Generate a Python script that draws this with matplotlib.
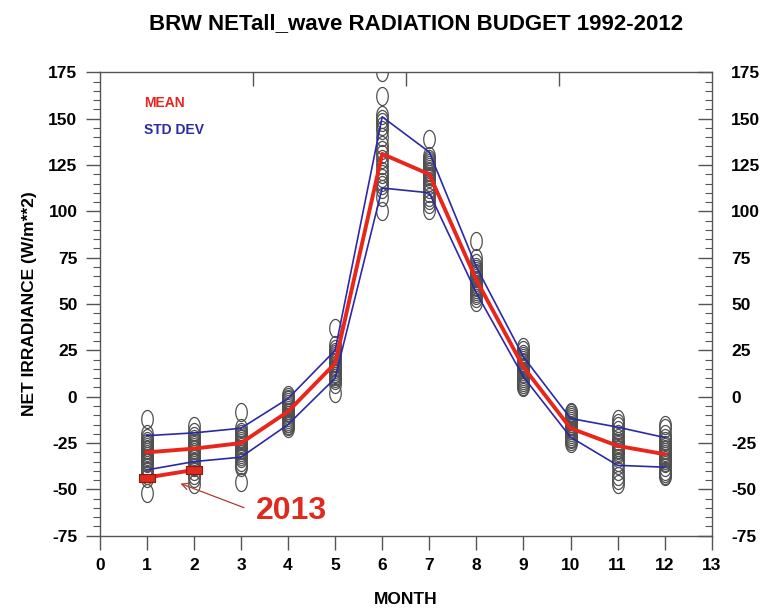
import numpy as np
import matplotlib
matplotlib.use("Agg")
import matplotlib.pyplot as plt
from matplotlib.path import Path
from matplotlib.ticker import MultipleLocator, FixedLocator

plt.rcParams['font.family'] = ['Liberation Sans', 'DejaVu Sans']

months = [1, 2, 3, 4, 5, 6, 7, 8, 9, 10, 11, 12]
mean_vals = [-30, -28, -25, -8, 18, 131, 120, 63, 16, -17, -26.5, -31]
std_upper = [-21, -19.5, -17, -1, 25, 151, 132, 70, 21.5, -11.7, -16.4, -22]
std_lower = [-39.5, -35, -32.6, -15, 10, 112.6, 110, 56, 10.7, -21.8, -37, -38]

yearly = {
    1: [-12, -20, -22, -24, -25, -26, -27, -28, -29, -30, -31, -32, -33, -34, -35, -36, -38, -40, -42, -44, -52],
    2: [-16, -19, -21, -23, -24, -25, -26, -27, -28, -29, -30, -31, -32, -33, -35, -36, -38, -40, -42, -44, -47],
    3: [-8, -17, -19, -20, -21, -22, -23, -24, -25, -26, -27, -28, -29, -30, -31, -32, -33, -35, -37, -38, -46],
    4: [1, 0, -1, -2, -3, -4, -5, -6, -7, -8, -8, -9, -10, -11, -12, -13, -14, -15, -16, -17, -14],
    5: [37, 28, 26, 24, 23, 22, 21, 20, 19, 18, 17, 16, 15, 14, 13, 12, 11, 10, 9, 7, 2],
    6: [175, 162, 152, 150, 148, 146, 144, 140, 136, 133, 131, 128, 125, 122, 120, 118, 116, 114, 112, 108, 100],
    7: [139, 130, 128, 127, 126, 125, 124, 123, 122, 121, 120, 119, 118, 116, 114, 112, 110, 108, 106, 104, 101],
    8: [84, 75, 72, 70, 69, 68, 67, 66, 65, 64, 63, 62, 61, 60, 59, 58, 57, 56, 55, 53, 51],
    9: [27, 25, 23, 22, 21, 20, 19, 18, 17, 16, 15, 14, 13, 12, 11, 10, 9, 8, 7, 6, 5],
    10: [-8, -9, -10, -11, -12, -13, -14, -15, -16, -16, -17, -17, -18, -19, -20, -21, -22, -23, -24, -25, -18],
    11: [-12, -14, -16, -18, -20, -22, -24, -25, -26, -27, -28, -29, -30, -31, -33, -35, -37, -40, -43, -45, -47],
    12: [-15, -17, -20, -22, -24, -26, -27, -28, -29, -30, -31, -32, -33, -34, -35, -36, -38, -40, -41, -43, -42],
}

months_2013 = [1, 2]
vals_2013 = [-43.6, -39.5]

xticks = list(range(0, 14))
yticks = list(range(-75, 176, 25))

# custom markers
t = np.linspace(0, 2 * np.pi, 60)
ellipse = Path(np.column_stack([0.64 * np.cos(t), np.sin(t)]), closed=True)
rect = Path([(-1, -0.5), (1, -0.5), (1, 0.5), (-1, 0.5), (-1, -0.5)],
            [Path.MOVETO, Path.LINETO, Path.LINETO, Path.LINETO, Path.CLOSEPOLY])

fig = plt.figure(figsize=(7.67, 6.13), dpi=100)
ax = fig.add_axes([0.130, 0.126, 0.798, 0.756])

for m in months:
    ys = yearly[m]
    ax.plot([m] * len(ys), ys, linestyle='none', marker=ellipse, markersize=13,
            markerfacecolor='none', markeredgecolor='#505050', markeredgewidth=0.9, zorder=2)

ax.plot(months, std_upper, color='#2a2aa8', lw=1.2, zorder=3)
ax.plot(months, std_lower, color='#2a2aa8', lw=1.2, zorder=3)
ax.plot(months, mean_vals, color='#e8261c', lw=2.8, zorder=4)

ax.plot(months_2013, vals_2013, color='#e8261c', lw=2.8, zorder=5,
        marker=rect, markersize=12, markerfacecolor='#e02a1e', markeredgecolor='#8a1a10',
        markeredgewidth=0.8)

ax.annotate('', xy=(1.66, -46.3), xytext=(3.12, -60.4),
            arrowprops=dict(arrowstyle='->', color='#b03a30', lw=0.9, mutation_scale=12), zorder=6)
ax.text(4.08, -61.5, '2013', color='#e02a1e', fontsize=23, fontweight='bold',
        ha='center', va='center', zorder=6)

ax.text(0.95, 158.5, 'MEAN', color='#e8261c', fontsize=10, fontweight='bold', ha='left', va='center')
ax.text(0.95, 144, 'STD DEV', color='#2a2aa8', fontsize=10, fontweight='bold', ha='left', va='center')

ax.set_xlim(0, 13)
ax.set_ylim(-75, 175)
ax.xaxis.set_major_locator(FixedLocator(xticks))
ax.yaxis.set_major_locator(FixedLocator(yticks))
ax.yaxis.set_minor_locator(MultipleLocator(5))
ax.set_xticklabels([str(v) for v in xticks])
ax.set_yticklabels([str(v) for v in yticks])

for sp in ax.spines.values():
    sp.set_color('#555555')
    sp.set_linewidth(1.0)

ax.tick_params(axis='x', which='major', direction='out', length=10, width=1, color='#555555',
               labelsize=12.5, pad=6)
ax.tick_params(axis='y', which='major', direction='out', length=10, width=1, color='#555555',
               labelsize=12.5, pad=6)
ax.tick_params(axis='y', which='minor', direction='out', length=5, width=0.8, color='#555555')
for lab in ax.get_xticklabels() + ax.get_yticklabels():
    lab.set_fontweight('bold')

# top axis ticks (inside, unlabeled)
axt = ax.secondary_xaxis('top')
axt.set_xticks([3.25, 6.5, 9.75])
axt.tick_params(direction='in', length=10, width=1, color='#555555', labeltop=False)
axt.spines['top'].set_visible(False)

# right axis
axr = ax.twinx()
axr.set_ylim(-75, 175)
axr.yaxis.set_major_locator(FixedLocator(yticks))
axr.yaxis.set_minor_locator(MultipleLocator(5))
axr.set_yticklabels([str(v) for v in yticks])
axr.tick_params(axis='y', which='major', direction='in', length=10, width=1, color='#555555',
                labelsize=12.5, pad=14)
axr.tick_params(axis='y', which='minor', direction='in', length=5, width=0.8, color='#555555')
for lab in axr.get_yticklabels():
    lab.set_fontweight('bold')
for sp in axr.spines.values():
    sp.set_visible(False)

ax.set_xlabel('MONTH', fontsize=12.5, fontweight='bold', labelpad=14)
ax.set_ylabel('NET IRRADIANCE (W/m**2)', fontsize=12.5, fontweight='bold', labelpad=8)
fig.suptitle('BRW NETall_wave RADIATION BUDGET 1992-2012', fontsize=16, fontweight='bold',
             x=0.542, y=0.978)

fig.savefig('out.png', dpi=100)
